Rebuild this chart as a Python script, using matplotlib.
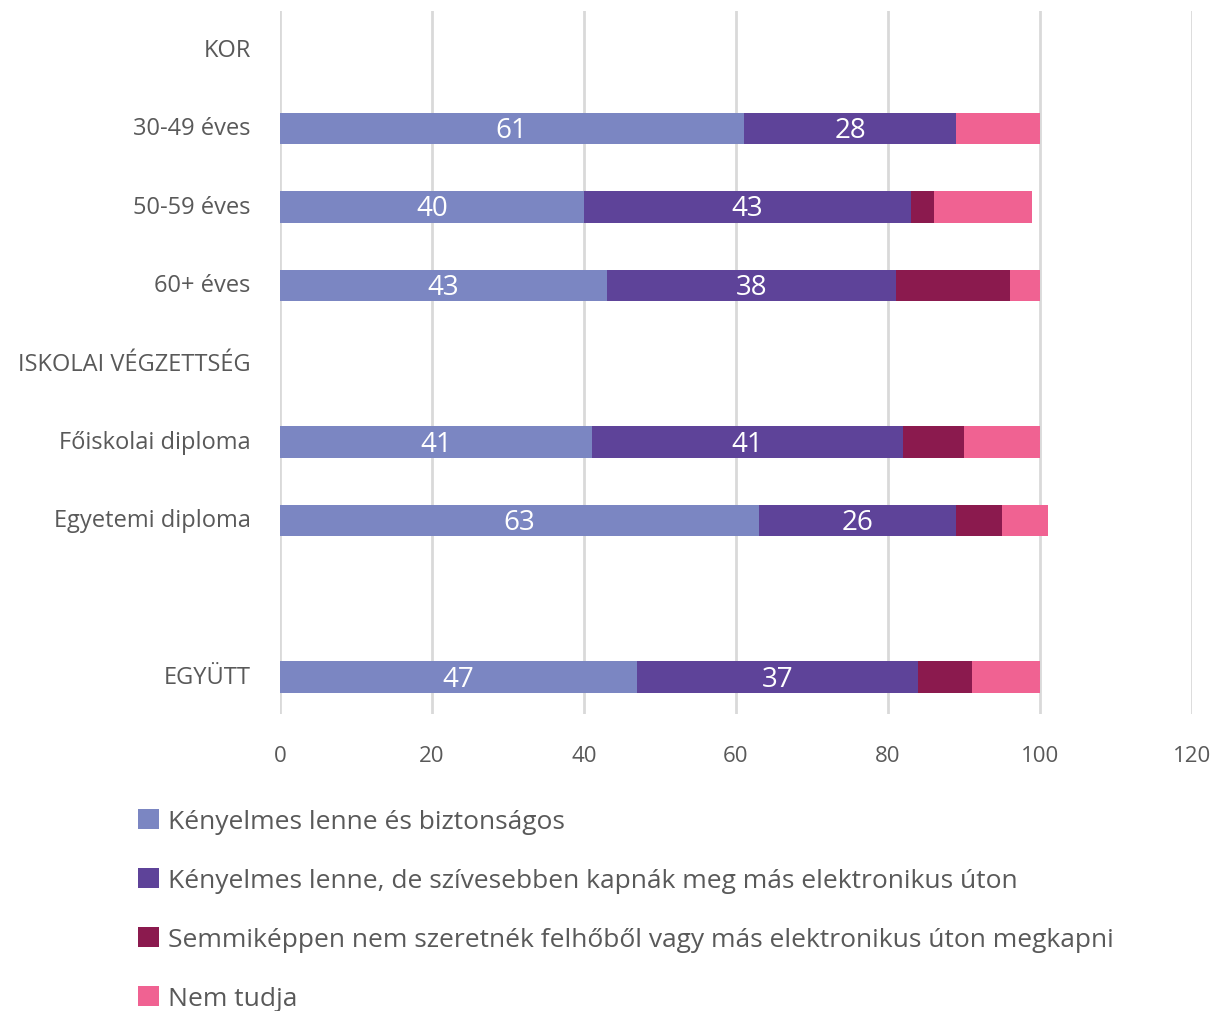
import matplotlib.pyplot as plt
import numpy as np
from matplotlib.patches import Patch

plt.rcParams['font.family'] = ['Open Sans', 'DejaVu Sans']

categories = ["KOR", "30-49 éves", "50-59 éves", "60+ éves", "ISKOLAI VÉGZETTSÉG",
              "Főiskolai diploma", "Egyetemi diploma", "", "EGYÜTT"]
series_names = ["Kényelmes lenne és biztonságos",
                "Kényelmes lenne, de szívesebben kapnák meg más elektronikus úton",
                "Semmiképpen nem szeretnék felhőből vagy más elektronikus úton megkapni",
                "Nem tudja"]
s1 = [0, 61, 40, 43, 0, 41, 63, 0, 47]
s2 = [0, 28, 43, 38, 0, 41, 26, 0, 37]
s3 = [0, 0, 3, 15, 0, 8, 6, 0, 7]
s4 = [0, 11, 13, 4, 0, 10, 6, 0, 9]
colors = ["#7B86C2", "#5E4399", "#8B1A4E", "#F06292"]
xticks = [0, 20, 40, 60, 80, 100, 120]

txt = "#595959"
fig = plt.figure(figsize=(12.14, 10.12), dpi=100)
ax = fig.add_axes([280/1214, 1-715/1012, (1192-280)/1214, (715-12)/1012])

y = np.arange(len(categories))
left = np.zeros(len(categories))
data = [s1, s2, s3, s4]
for i, (vals, c) in enumerate(zip(data, colors)):
    vals = np.array(vals, dtype=float)
    ax.barh(y, vals, left=left, height=0.4, color=c, zorder=3)
    if i < 2:
        for yy, v, l in zip(y, vals, left):
            if v > 0:
                ax.text(l + v/2, yy + 0.02, f"{int(v)}", ha='center', va='center',
                        color='white', fontsize=20, zorder=4)
    left += vals

ax.set_ylim(8.47, -0.50)
ax.set_xlim(0, 120)
ax.set_xticks(xticks)
ax.set_yticks(y - 0.04)
ax.set_yticklabels(categories)
ax.tick_params(axis='both', length=0, labelcolor=txt)
ax.tick_params(axis='x', pad=22, labelsize=16)
ax.tick_params(axis='y', pad=21, labelsize=17)
ax.grid(axis='x', color='#D9D9D9', linewidth=2, zorder=0)
for s in ax.spines.values():
    s.set_visible(False)

handles = [Patch(facecolor=c, edgecolor='none') for c in colors]
fig.legend(handles, series_names, loc='upper left', bbox_to_anchor=(114/1214, 1-786/1012),
           frameon=False, fontsize=19, labelcolor=txt, handlelength=0.8, handleheight=0.8,
           handletextpad=0.34, labelspacing=1.28)

fig.savefig("out.png", dpi=100)
